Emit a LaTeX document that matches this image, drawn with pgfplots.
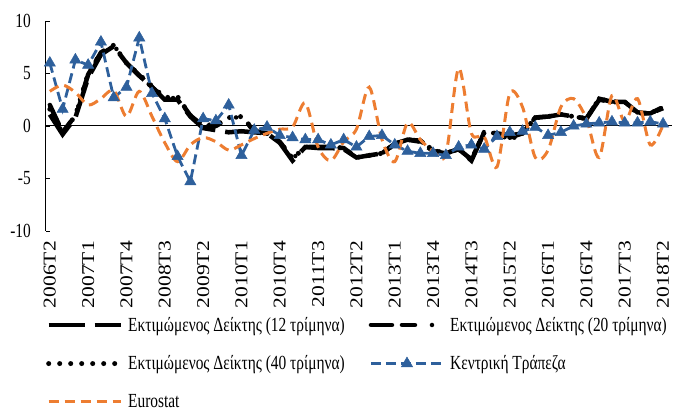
\documentclass[border=0pt]{standalone}
\usepackage{fontspec}
\setmainfont{Liberation Serif}[FakeStretch=0.77]
\newfontfamily\xlabfont{Liberation Serif}
\usepackage{graphicx}
\usepackage{pgfplots}
\pgfplotsset{compat=1.18}
\definecolor{cbblue}{RGB}{46,96,156}
\definecolor{eorange}{RGB}{237,125,49}
\newcommand\cf{\fontsize{20bp}{23bp}\selectfont}
\newcommand\xl[1]{\scalebox{1}[0.84]{\xlabfont\fontsize{21.5bp}{24bp}\selectfont #1}}
\begin{document}
\begin{tikzpicture}
\begin{axis}[
 at={(0,0)}, anchor=south west,
 scale only axis, width=626bp, height=210bp,
 xmin=-0.3, xmax=48.7, ymin=-10, ymax=10,
 axis y line*=left, axis x line*=bottom,
 x axis line style={draw=none},
 y axis line style={line width=1bp},
 xtick={0,3,...,48},
 xticklabels={\xl{2006T2},\xl{2007T1},\xl{2007T4},\xl{2008T3},\xl{2009T2},\xl{2010T1},\xl{2010T4},\xl{2011T3},\xl{2012T2},\xl{2013T1},\xl{2013T4},\xl{2014T3},\xl{2015T2},\xl{2016T1},\xl{2016T4},\xl{2017T3},\xl{2018T2}},
 x tick label style={rotate=90, anchor=east, inner sep=0pt},
 xticklabel shift=10bp,
 xtick style={draw=none},
 ytick={-10,-5,0,5,10},
 y tick label style={font=\cf, inner sep=0pt},
 yticklabel shift=15bp,
 ytick style={black, line width=0.8bp},
 tick align=inside, major tick length=4bp,
 /pgf/number format/assume math mode=true,
 extra y ticks={0}, extra y tick labels={},
 extra y tick style={grid=major, major grid style={black, line width=1bp}, tick style={draw=none}},
 legend columns=2,
 legend cell align=left,
 legend style={at={(0.0,-0.40)}, anchor=north west, draw=none, fill=none, font=\cf, inner sep=0pt, row sep=19bp,
   /tikz/every odd column/.append style={column sep=3bp},
   /tikz/every even column/.append style={column sep=22bp}},
 legend image code/.code={\draw[mark repeat=2,mark phase=2,#1] plot coordinates {(0bp,0bp) (36bp,0bp) (72bp,0bp)};},
]
\addplot[black, line width=4.5bp, dash pattern=on 36bp off 10bp] coordinates {
(0,1.1)(1,-0.8)(2,0.8)(3,4.6)(4,6.8)(5,7.6)(6,6.0)(7,4.8)(8,3.7)(9,2.5)(10,2.5)(11,0.9)(12,-0.2)(13,-0.4)(14,-0.6)(15,-0.5)(16,-0.6)(17,-0.7)(18,-1.6)(19,-3.3)(20,-2.0)(21,-2.1)(22,-2.1)(23,-2.2)(24,-3.0)(25,-2.8)(26,-2.6)(27,-1.7)(28,-1.3)(29,-1.5)(30,-2.4)(31,-2.6)(32,-2.2)(33,-3.3)(34,-0.6)(35,-0.7)(36,-0.9)(37,-0.7)(38,0.8)(39,0.9)(40,1.1)(41,0.9)(42,0.7)(43,2.5)(44,2.3)(45,2.3)(46,1.3)(47,1.2)(48,1.7)};
\addlegendentry{Εκτιμώμενος Δείκτης (12 τρίμηνα)}
\addplot[black, line width=4.5bp, line cap=round, dash pattern=on 21bp off 10bp on 13bp off 17bp on 0bp off 17bp] coordinates {
(0,2.0)(1,-0.6)(2,1.0)(3,4.9)(4,7.0)(5,7.7)(6,6.0)(7,4.8)(8,3.7)(9,2.6)(10,2.7)(11,1.0)(12,0.0)(13,0.0)(14,0.7)(15,0.9)(16,-0.5)(17,-0.7)(18,-1.5)(19,-3.1)(20,-2.0)(21,-2.0)(22,-2.0)(23,-2.1)(24,-3.0)(25,-2.8)(26,-2.6)(27,-1.7)(28,-1.3)(29,-1.4)(30,-2.3)(31,-2.6)(32,-2.2)(33,-3.2)(34,-0.6)(35,-0.7)(36,-1.1)(37,-0.7)(38,0.8)(39,0.9)(40,1.1)(41,0.9)(42,0.7)(43,2.6)(44,2.3)(45,2.3)(46,1.2)(47,1.2)(48,1.8)};
\addlegendentry{Εκτιμώμενος Δείκτης (20 τρίμηνα)}
\addplot[black, line width=5bp, line cap=round, dash pattern=on 0bp off 11bp] coordinates {
(0,1.6)(1,-0.7)(2,1.0)(3,5.0)(4,7.0)(5,7.7)(6,6.0)(7,4.9)(8,3.8)(9,2.7)(10,2.8)(11,1.0)(12,0.1)(13,0.1)(14,0.8)(15,0.9)(16,-0.4)(17,-0.7)(18,-1.5)(19,-3.1)(20,-2.0)(21,-2.0)(22,-2.0)(23,-2.1)(24,-3.0)(25,-2.8)(26,-2.6)(27,-1.7)(28,-1.3)(29,-1.4)(30,-2.3)(31,-2.6)(32,-2.2)(33,-3.2)(34,-0.6)(35,-0.7)(36,-1.3)(37,-0.7)(38,0.8)(39,0.9)(40,1.1)(41,0.9)(42,0.7)(43,2.6)(44,2.3)(45,2.3)(46,1.2)(47,1.2)(48,1.8)};
\addlegendentry{Εκτιμώμενος Δείκτης (40 τρίμηνα)}
\addplot[cbblue, line width=2.8bp, dash pattern=on 10bp off 5bp, mark=triangle*, mark size=6.5bp, mark options={solid, fill=cbblue, draw=cbblue, line width=0.5bp}] coordinates {
(0,6.0)(1,1.6)(2,6.3)(3,5.8)(4,8.0)(5,2.7)(6,3.7)(7,8.4)(8,3.1)(9,0.7)(10,-2.9)(11,-5.3)(12,0.7)(13,0.5)(14,2.0)(15,-2.8)(16,-0.4)(17,-0.1)(18,-0.9)(19,-1.1)(20,-1.3)(21,-1.3)(22,-1.8)(23,-1.3)(24,-2.0)(25,-1.0)(26,-0.9)(27,-1.8)(28,-2.4)(29,-2.6)(30,-2.6)(31,-2.8)(32,-2.0)(33,-1.8)(34,-2.2)(35,-1.0)(36,-0.6)(37,-0.5)(38,-0.1)(39,-0.9)(40,-0.6)(41,0.0)(42,0.2)(43,0.3)(44,0.4)(45,0.3)(46,0.3)(47,0.4)(48,0.2)};
\addlegendentry{Κεντρική Τράπεζα}
\addplot[eorange, line width=3bp, dash pattern=on 10bp off 6bp, smooth, tension=0.5] coordinates {
(0,3.3)(1,3.9)(2,3.2)(3,2.0)(4,2.6)(5,3.4)(6,0.9)(7,3.3)(8,0.9)(9,-1.6)(10,-3.4)(11,-1.8)(12,-1.1)(13,-1.5)(14,-2.3)(15,-1.8)(16,-1.2)(17,-0.7)(18,-0.3)(19,-0.1)(20,2.2)(21,-2.0)(22,-3.3)(23,-1.5)(24,-0.3)(25,3.7)(26,-1.3)(27,-3.4)(28,0.3)(29,-1.3)(30,-2.4)(31,-2.7)(32,5.5)(33,-0.7)(34,-1.0)(35,-3.9)(36,3.1)(37,1.8)(38,-3.0)(39,-2.3)(40,1.8)(41,2.6)(42,0.7)(43,-3.0)(44,2.9)(45,0.4)(46,2.6)(47,-1.8)(48,0.1)};
\addlegendentry{Eurostat}
\end{axis}
\path[use as bounding box] (-46bp,-172bp) rectangle (632bp,231bp);
\end{tikzpicture}
\end{document}
